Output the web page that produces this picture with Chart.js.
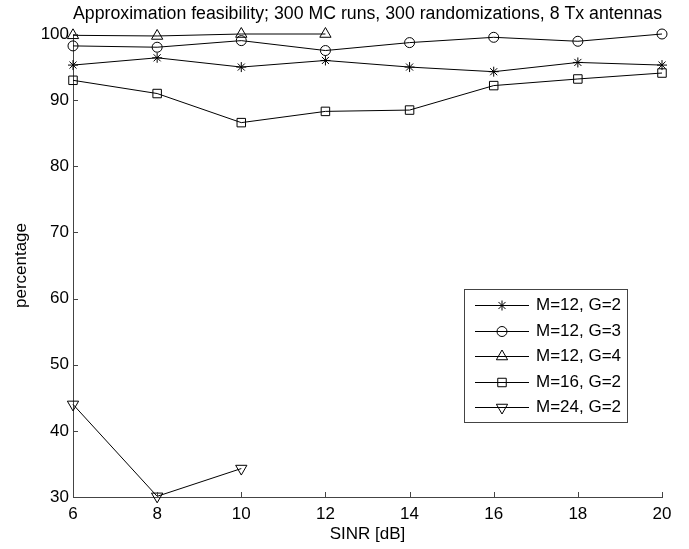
<!DOCTYPE html>
<html>
<head>
<meta charset="utf-8">
<script src="https://cdn.jsdelivr.net/npm/chart.js@4/dist/chart.umd.min.js"></script>
<style>
  html, body { margin: 0; padding: 0; background: #fff; }
  #wrap { width: 689px; height: 549px; }
</style>
</head>
<body>
<div id="wrap"><canvas id="feasChart"></canvas></div>
<script>
// SINR grid and measured feasibility percentages
const sinr = [6, 8, 10, 12, 14, 16, 18, 20];
const m12g2 = [95.3, 96.4, 95.0, 96.0, 95.0, 94.3, 95.7, 95.3];
const m12g3 = [98.2, 98.0, 99.0, 97.5, 98.7, 99.5, 98.9, 100];
const m12g4 = [99.8, 99.7, 100, 100];
const m16g2 = [93.0, 91.0, 86.6, 88.3, 88.5, 92.2, 93.2, 94.1];
const m24g2 = [44.0, 30.1, 34.3];
const seriesNames = ['M=12, G=2', 'M=12, G=3', 'M=12, G=4', 'M=16, G=2', 'M=24, G=2'];

const FONT = 'Liberation Sans, Arial, Helvetica, sans-serif';
Chart.defaults.font.family = FONT;
Chart.defaults.font.size = 17;
Chart.defaults.color = '#000';

function pts(vals) {
  return vals.map((v, i) => ({ x: sinr[i], y: v }));
}

function series(label, vals, style, radius, rotation) {
  return {
    label: label,
    data: pts(vals),
    borderColor: '#000',
    borderWidth: 1,
    pointStyle: style,
    pointRadius: radius,
    pointRotation: rotation || 0,
    pointBorderColor: '#000',
    pointBorderWidth: 1,
    pointBackgroundColor: 'rgba(0,0,0,0)',
    tension: 0,
    clip: false
  };
}

// MATLAB-style ticks pointing into the axes
const inwardTicks = {
  id: 'inwardTicks',
  afterDatasetsDraw(chart) {
    const { ctx, chartArea: a, scales: { x, y } } = chart;
    ctx.save();
    ctx.strokeStyle = '#444';
    ctx.lineWidth = 1;
    ctx.beginPath();
    x.ticks.forEach(t => {
      const px = Math.round(x.getPixelForValue(t.value)) + 0.5;
      ctx.moveTo(px, a.bottom);
      ctx.lineTo(px, a.bottom - 5);
    });
    y.ticks.forEach(t => {
      const py = Math.round(y.getPixelForValue(t.value)) + 0.5;
      ctx.moveTo(a.left, py);
      ctx.lineTo(a.left + 5, py);
    });
    ctx.stroke();
    ctx.restore();
  }
};

// boxed legend drawn inside the plot area
const boxLegend = {
  id: 'boxLegend',
  afterDraw(chart, args, opts) {
    const { ctx } = chart;
    const { left, top, right, bottom, firstRow, rowH } = opts;
    ctx.save();
    ctx.fillStyle = '#fff';
    ctx.fillRect(left, top, right - left, bottom - top);
    ctx.strokeStyle = '#444';
    ctx.lineWidth = 1;
    ctx.strokeRect(left + 0.5, top + 0.5, right - left, bottom - top);
    chart.data.datasets.forEach((ds, i) => {
      const y = Math.round(top + firstRow + i * rowH) + 0.5;
      ctx.strokeStyle = ds.borderColor;
      ctx.beginPath();
      ctx.moveTo(left + 11, y);
      ctx.lineTo(left + 65, y);
      ctx.stroke();
      if (Chart.helpers && Chart.helpers.drawPoint) {
        ctx.fillStyle = 'rgba(0,0,0,0)';
        ctx.strokeStyle = ds.pointBorderColor;
        Chart.helpers.drawPoint(ctx, {
          pointStyle: ds.pointStyle,
          radius: ds.pointRadius,
          rotation: ds.pointRotation,
          borderWidth: 1
        }, left + 38, y);
      }
      ctx.fillStyle = '#000';
      ctx.font = '17px ' + FONT;
      ctx.textAlign = 'left';
      ctx.textBaseline = 'middle';
      ctx.fillText(ds.label, left + 72, y);
    });
    ctx.restore();
  }
};

new Chart(document.getElementById('feasChart'), {
  type: 'line',
  data: {
    datasets: [
      series(seriesNames[0], m12g2, 'star', 5),
      series(seriesNames[1], m12g3, 'circle', 5),
      series(seriesNames[2], m12g4, 'triangle', 6.5),
      series(seriesNames[3], m16g2, 'rect', 6),
      series(seriesNames[4], m24g2, 'triangle', 6.5, 180)
    ]
  },
  options: {
    responsive: true,
    maintainAspectRatio: false,
    animation: false,
    layout: { padding: { left: 0, right: 27, top: 0, bottom: 0 } },
    plugins: {
      legend: { display: false },
      tooltip: { enabled: false },
      title: {
        display: true,
        fullSize: false,
        text: 'Approximation feasibility; 300 MC runs, 300 randomizations, 8 Tx antennas',
        color: '#000',
        font: { size: 18, weight: 'normal' },
        padding: { top: 3.7, bottom: 8.7 }
      },
      boxLegend: { left: 464, top: 289, right: 627, bottom: 422, firstRow: 16, rowH: 25.5 }
    },
    scales: {
      x: {
        type: 'linear',
        min: 6,
        max: 20,
        afterFit: s => { s.height = 52; },
        ticks: { stepSize: 2, padding: 7, color: '#000' },
        grid: { display: false, drawTicks: false },
        border: { display: true, color: '#444', width: 1 },
        title: { display: true, text: 'SINR [dB]', color: '#000', padding: { top: 0, bottom: 4.8 } }
      },
      y: {
        min: 30,
        max: 100,
        afterFit: s => { s.width = 73; },
        ticks: { stepSize: 10, padding: 4, color: '#000' },
        grid: { display: false, drawTicks: false },
        border: { display: true, color: '#444', width: 1 },
        title: { display: true, text: 'percentage', color: '#000', padding: { top: 11.5, bottom: 0 } }
      }
    }
  },
  plugins: [inwardTicks, boxLegend]
});
</script>
</body>
</html>
